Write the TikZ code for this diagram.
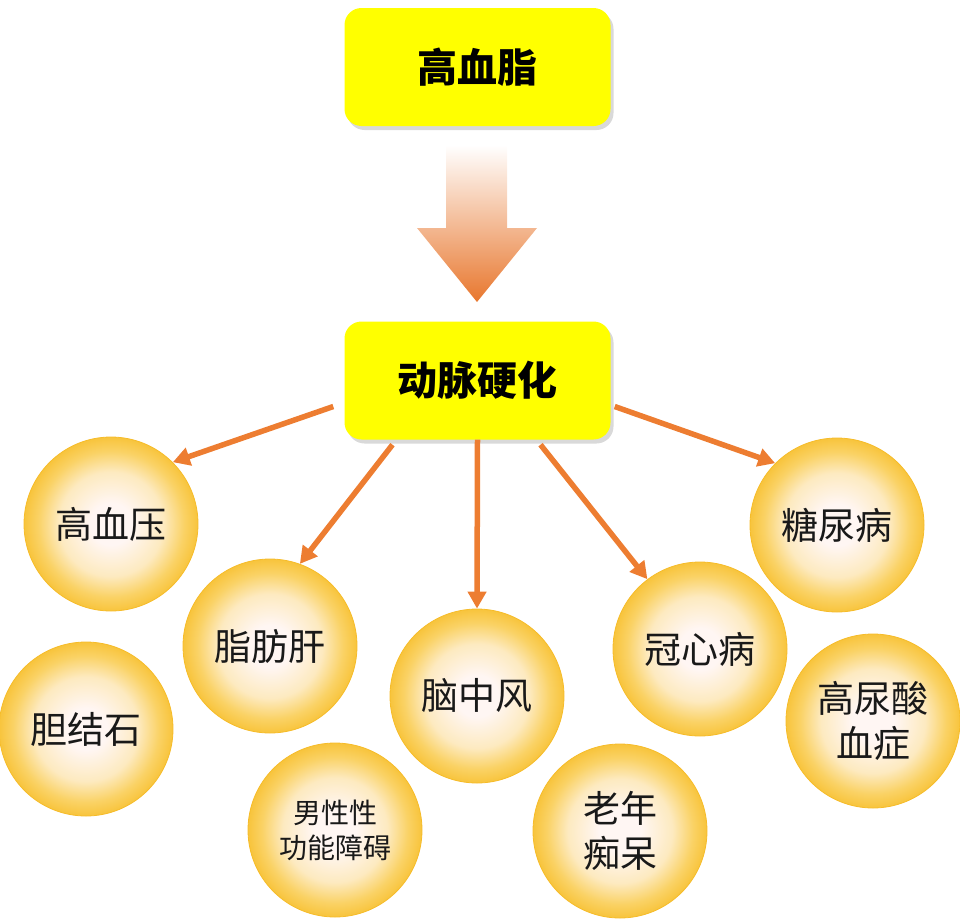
\documentclass[tikz,border=0pt]{standalone}
\usepackage{fontspec}
\newfontfamily\cjk{Noto Sans CJK SC}
\usepackage{xcolor}
\usetikzlibrary{arrows.meta,shadows}

\definecolor{boxyellow}{HTML}{FFFF00}
\definecolor{linkorange}{HTML}{ED7D31}
\definecolor{ballcore}{HTML}{FFF6F3}
\definecolor{ballmid}{HTML}{FDEAC0}
\definecolor{ballgold}{HTML}{FAD265}
\definecolor{ballrim}{HTML}{F8C43C}
\definecolor{ballline}{HTML}{F6BC2A}
\definecolor{arrowtip}{HTML}{E8772E}

\pgfdeclareradialshading{ballshade}{\pgfpoint{0bp}{0bp}}{color(0bp)=(ballcore); color(6bp)=(ballcore); color(15bp)=(ballmid); color(21bp)=(ballgold); color(25bp)=(ballrim); color(50bp)=(ballrim)}

\tikzset{
  keybox/.style={rounded corners=17pt, fill=boxyellow, minimum width=266pt, minimum height=118pt,
    font=\cjk\bfseries\fontsize{40}{48}\selectfont,
    drop shadow={opacity=0.3, shadow xshift=3pt, shadow yshift=-4pt}},
  ball/.style={circle, shading=ballshade, draw=ballline, line width=0.8pt, minimum size=174pt, inner sep=0pt,
    align=center, text=black!90, font=\cjk\fontsize{37}{45}\selectfont},
  link/.style={linkorange, line width=5.5pt, -{Triangle[width=18pt,length=17pt]}}
}

\begin{document}
\begin{tikzpicture}[x=1pt,y=-1pt]
        \useasboundingbox (0,0) rectangle (960,918);

        % top boxes
        \node [keybox] (hl) at (477.5,67) {高血脂};
        \node [keybox] (as) at (477.5,380.5) {动脉硬化};

        % big arrow between them
        \shade [top color=white, bottom color=arrowtip] (446,145) -- (507,145) -- (507,228) -- (537,228)
            -- (477,302) -- (417,228) -- (446,228) -- cycle;

        % diseases
        \node [ball] (hbp) at (111,524) {高血压};
        \node [ball] (gall) at (86,729) {胆结石};
        \node [ball] (fat) at (270,646) {脂肪肝};
        \node [ball, font=\cjk\fontsize{28}{35}\selectfont] (ed) at (335,830) {男性性\\功能障碍};
        \node [ball] (stroke) at (477,696) {脑中风};
        \node [ball] (dem) at (620,831) {老年\\痴呆};
        \node [ball] (chd) at (700,649) {冠心病};
        \node [ball] (dm) at (837,525) {糖尿病};
        \node [ball] (gout) at (873,721) {高尿酸\\血症};

        % arrows
        \coordinate (s1) at ([xshift=-11pt,yshift=-26pt]as.west);
        \coordinate (s2) at ([xshift=-85pt,yshift=-5pt]as.south);
        \coordinate (s4) at ([xshift=63pt,yshift=-5pt]as.south);
        \coordinate (s5) at ([xshift=4pt,yshift=-26pt]as.east);
        \draw [link] (s1) to (hbp.45);
        \draw [link] (s2) to (fat.70);
        \draw [link] (as.south) to (stroke.north);
        \draw [link] (s4) to (chd.127);
        \draw [link] (s5) to (dm.135);
    \end{tikzpicture}
\end{document}
